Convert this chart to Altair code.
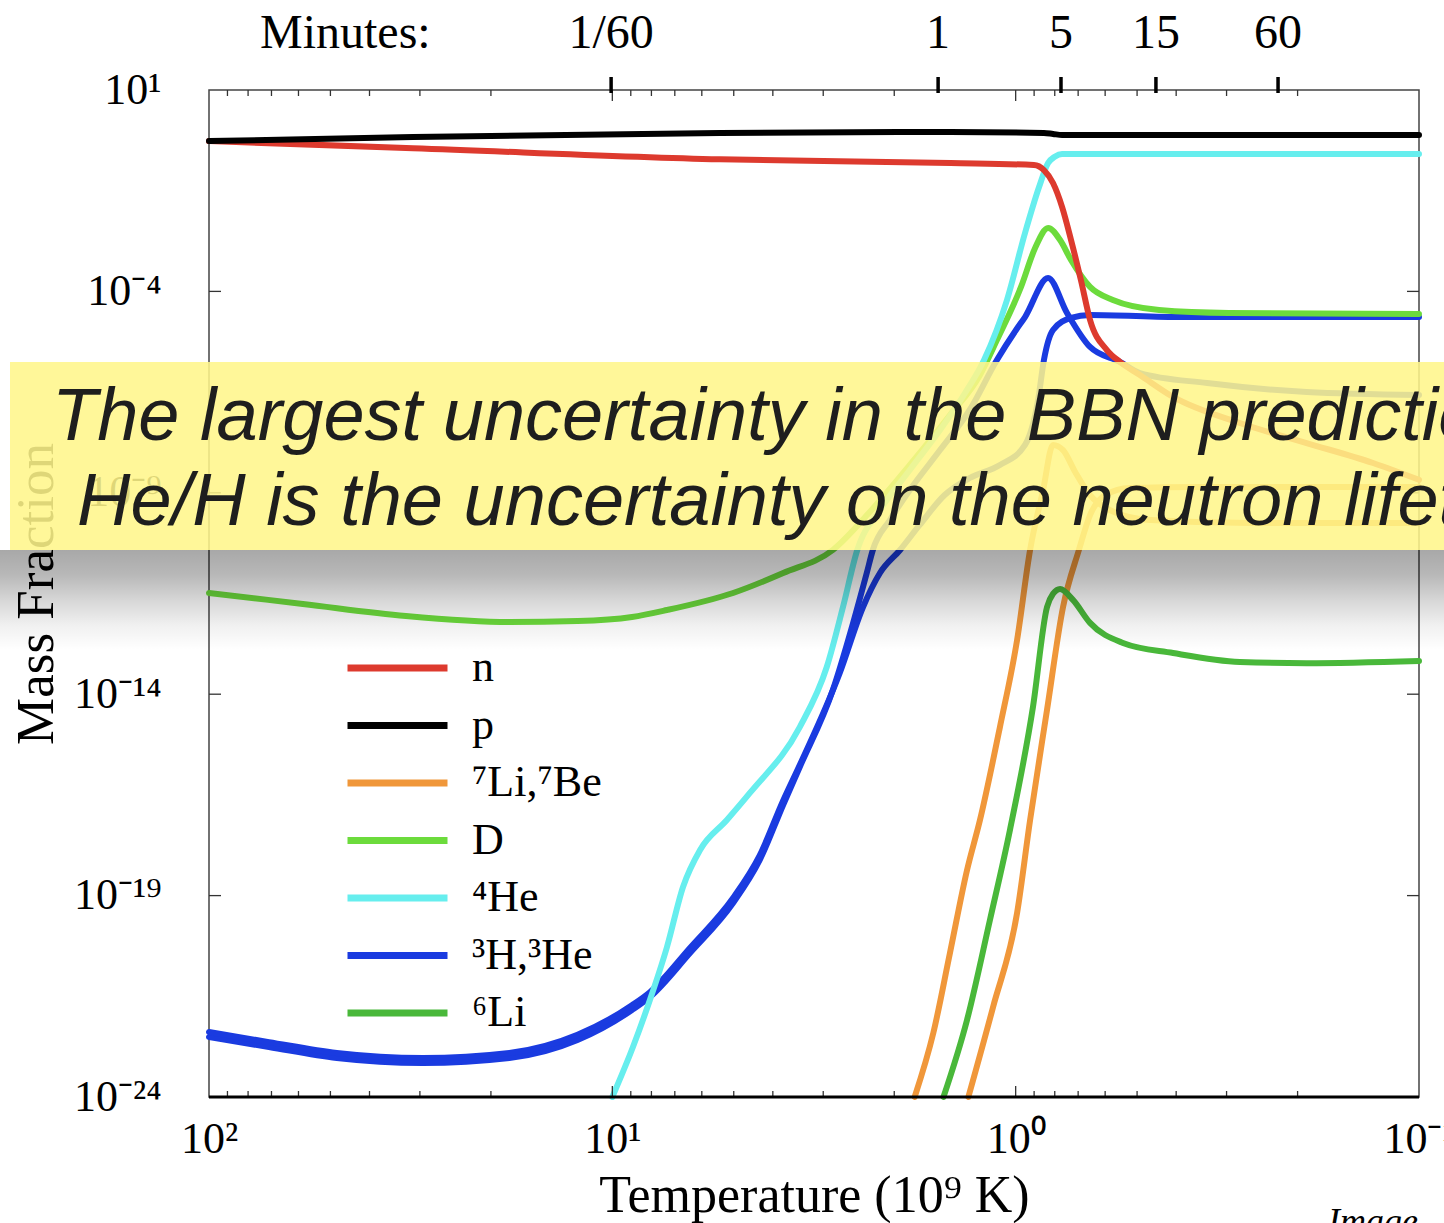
import altair as alt
import pandas as pd

# ---------------- data ----------------
# Temperature in 10^9 K (x), mass fraction (y)
SPECIES = ["n", "p", "⁷Li,⁷Be", "D", "⁴He", "³H,³He", "⁶Li"]
COLORS = ["#dd3a2e", "#000000", "#f0973a", "#6cdb3c", "#66eeee", "#1a3be0", "#49b83a"]

n_T = [100, 31.2, 5.41, 1.45, 0.901, 0.851, 0.808, 0.767, 0.729, 0.689,
       0.654, 0.594, 0.551, 0.492, 0.407, 0.278, 0.19, 0.13, 0.1]
n_X = [0.54, 0.36, 0.19, 0.154, 0.137, 0.103, 0.049, 0.0124, 1.9e-3, 1.9e-4,
       1.95e-5, 3.5e-6, 1.77e-6, 8.4e-7, 2.4e-7, 5.4e-8, 1.72e-8, 5.5e-9, 2.1e-9]

p_T = [100, 31.2, 5.41, 1.45, 0.851, 0.808, 0.767, 0.1]
p_X = [0.54, 0.68, 0.856, 0.906, 0.856, 0.81, 0.764, 0.764]

he4_T = [10.0, 8.89, 8.07, 7.32, 6.68, 6.06, 5.20, 4.56, 3.43, 2.94, 2.68, 2.47,
         2.17, 1.83, 1.54, 1.335, 1.198, 1.051, 0.948, 0.875, 0.831, 0.80, 0.767, 0.1]
he4_X = [1e-24, 1.74e-23, 2.56e-22, 5.3e-21, 1.64e-19, 1.36e-18, 7.5e-18, 3.53e-17,
         1.53e-15, 4.73e-14, 1.46e-12, 3.8e-11, 3.74e-10, 3.68e-9, 3.62e-8, 3.0e-7,
         1.98e-6, 6.1e-5, 2.82e-3, 0.039, 0.154, 0.22, 0.258, 0.258]

d_T = [100, 58.5, 32.5, 18.0, 12.2, 8.94, 7.32, 5.02, 3.77, 2.84, 2.30, 1.83, 1.455,
       1.226, 1.113, 0.97, 0.895, 0.831, 0.776, 0.729, 0.654, 0.574, 0.441, 0.296, 0.1]
d_X = [3.26e-12, 1.74e-12, 8.75e-13, 6.2e-13, 6.56e-13, 8.26e-13, 1.23e-12, 3.26e-12,
       1.02e-11, 3.8e-11, 3.33e-10, 4.9e-9, 8.5e-8, 8.4e-7, 6.2e-6, 1.29e-4, 1.19e-3,
       3.75e-3, 1.89e-3, 6.0e-4, 1.29e-4, 6.1e-5, 3.45e-5, 2.91e-5, 2.75e-5]

h3_T = [100, 71, 48.2, 29.5, 18.0, 12.2, 8.94, 8.07, 6.42, 5.02, 4.31, 3.77, 3.43,
        2.84, 2.53, 2.34, 2.26, 2.05, 1.83, 1.54, 1.30, 1.113, 0.998, 0.948, 0.831,
        0.746, 0.654, 0.551, 0.492, 0.335, 0.19, 0.1]
h3_X = [3.1e-23, 1.74e-23, 9.3e-24, 7.0e-24, 9.3e-24, 2.6e-23, 1.44e-22, 3.04e-22,
        3.76e-21, 6.55e-20, 7.66e-19, 1.8e-17, 1.56e-16, 1.27e-14, 5.86e-13, 1.02e-11,
        3.8e-11, 2.11e-10, 1.17e-9, 1.15e-8, 1.14e-7, 1.98e-6, 1.1e-5, 2.31e-5, 2.15e-4,
        2.91e-5, 4.17e-6, 1.77e-6, 9.4e-7, 5.3e-7, 3.18e-7, 2.68e-7]

he3_T = [100, 71, 48.2, 29.5, 18.0, 12.2, 8.94, 8.07, 6.42, 5.02, 4.31, 3.77, 3.43,
         2.73, 2.39, 2.17, 1.935, 1.73, 1.50, 1.30, 1.094, 0.948, 0.880, 0.851, 0.808,
         0.729, 0.654, 0.387, 0.1]
he3_X = [4.1e-23, 2.3e-23, 1.24e-23, 9.3e-24, 1.24e-23, 3.5e-23, 1.9e-22, 4.0e-22,
         5.0e-21, 8.7e-20, 1.0e-18, 2.3e-17, 1.75e-16, 3.36e-14, 1.46e-12, 1.02e-11,
         3.8e-11, 1.59e-10, 8.8e-10, 2.33e-9, 4.9e-9, 1.54e-8, 2.0e-7, 1.98e-6, 1.1e-5,
         2.19e-5, 2.6e-5, 2.31e-5, 2.31e-5]

li7_T = [1.78, 1.60, 1.455, 1.32, 1.226, 1.094, 0.992, 0.921, 0.855, 0.808, 0.763,
         0.712, 0.654, 0.583, 0.464, 0.262, 0.1]
li7_X = [1e-24, 3.9e-23, 3.8e-21, 4.3e-19, 7.5e-18, 1.53e-15, 2.2e-13, 3.8e-11, 1.17e-9,
         1.54e-8, 1.15e-8, 3.3e-9, 8.8e-10, 3.7e-10, 2.1e-10, 1.78e-10, 1.78e-10]

be7_T = [1.31, 1.138, 0.992, 0.921, 0.836, 0.763, 0.697, 0.654, 0.600, 0.521, 0.349, 0.1]
be7_X = [1e-24, 1.7e-22, 3.7e-20, 7.5e-18, 4.1e-15, 1.46e-12, 3.8e-11, 2.8e-10, 8.8e-10,
         1.32e-9, 1.39e-9, 1.39e-9]

li6_T = [1.51, 1.32, 1.158, 1.033, 0.906, 0.836, 0.808, 0.776, 0.721, 0.654, 0.542,
         0.407, 0.278, 0.19, 0.1]
li6_X = [1e-24, 8.2e-23, 2.5e-20, 4.3e-18, 4.8e-15, 1.46e-12, 3.1e-12, 4.1e-12, 2.2e-12,
         5.9e-13, 1.87e-13, 1.05e-13, 6.3e-14, 5.9e-14, 6.7e-14]

# tick positions (temperature) and minute marks of the top axis
minor_T = [90, 80, 70, 60, 50, 40, 30, 20, 9, 8, 7, 6, 5, 4, 3, 2,
           0.9, 0.8, 0.7, 0.6, 0.5, 0.4, 0.3, 0.2]
decade_T = [10, 1]
ytick_V = [1e-4, 1e-9, 1e-14, 1e-19]
minutes_T = [10.07, 1.557, 0.772, 0.449, 0.2236]
minutes_lab = ["1/60", "1", "5", "15", "60"]

# ---------------- build table ----------------
curves = [
    ("3H", "³H,³He", h3_T, h3_X),
    ("3He", "³H,³He", he3_T, he3_X),
    ("7Li", "⁷Li,⁷Be", li7_T, li7_X),
    ("7Be", "⁷Li,⁷Be", be7_T, be7_X),
    ("6Li", "⁶Li", li6_T, li6_X),
    ("D", "D", d_T, d_X),
    ("4He", "⁴He", he4_T, he4_X),
    ("n", "n", n_T, n_X),
    ("p", "p", p_T, p_X),
]
rows = []
for cid, sp, ts, xs in curves:
    for i, (t, x) in enumerate(zip(ts, xs)):
        rows.append({"curve": cid, "species": sp, "T": t, "v": x, "i": i})
df = pd.DataFrame(rows)

SERIF = "Liberation Serif"
W, H = 1210, 1007

xscale = alt.Scale(type="log", domain=[0.1, 100], reverse=True, nice=False)
yscale = alt.Scale(type="log", domain=[1e-24, 10], nice=False)

xaxis = alt.Axis(
    values=[100, 10, 1, 0.1],
    labelExpr="datum.value > 50 ? '10²' : datum.value > 5 ? '10¹' : datum.value > 0.5 ? '10⁰' : '10⁻¹'",
    ticks=False, domain=False, grid=False,
    labelFont=SERIF, labelFontSize=44, labelColor="black", labelPadding=20,
    labelFlush=False, labelOverlap=False,
    title="Temperature (10⁹ K)", titleFont=SERIF, titleFontSize=52,
    titleFontWeight="normal", titleColor="black",
    titleX=605, titleY=114, titleBaseline="alphabetic", titleAlign="center",
)
yaxis = alt.Axis(
    values=[10, 1e-4, 1e-9, 1e-14, 1e-19, 1e-24],
    labelExpr=("datum.value > 1 ? '10¹' : datum.value > 1e-6 ? '10⁻⁴' : "
               "datum.value > 1e-11 ? '10⁻⁹' : datum.value > 1e-16 ? '10⁻¹⁴' : "
               "datum.value > 1e-21 ? '10⁻¹⁹' : '10⁻²⁴'"),
    ticks=False, domain=False, grid=False,
    labelFont=SERIF, labelFontSize=44, labelColor="black", labelPadding=48,
    labelFlush=False, labelOverlap=False,
    title="Mass Fraction", titleFont=SERIF, titleFontSize=53,
    titleFontWeight="normal", titleColor="black",
    titleX=-157, titleY=503.5, titleBaseline="alphabetic", titleAlign="center",
)

X = alt.X("T:Q", scale=xscale, axis=xaxis)
Y = alt.Y("v:Q", scale=yscale, axis=yaxis)

lines = alt.Chart(df).mark_line(
    strokeWidth=6, strokeCap="round", strokeJoin="round", interpolate="monotone"
).encode(
    x=X,
    y=Y,
    color=alt.Color(
        "species:N",
        scale=alt.Scale(domain=SPECIES, range=COLORS),
        legend=alt.Legend(
            orient="none", legendX=135, legendY=554, title=None, padding=0,
            symbolType="stroke", symbolSize=10000, symbolStrokeWidth=7,
            labelFont=SERIF, labelFontSize=44, labelColor="black",
            labelOffset=21, rowPadding=9.5, clipHeight=48,
        ),
    ),
    detail="curve:N",
    order="i:Q",
)

one = pd.DataFrame({"k": [0]})
tick_color = "#333333"

bot_minor = alt.Chart(pd.DataFrame({"T": minor_T})).mark_rule(color=tick_color, strokeWidth=1.3).encode(
    x=X, y=alt.value(H), y2=alt.value(H - 6))
bot_major = alt.Chart(pd.DataFrame({"T": decade_T})).mark_rule(color=tick_color, strokeWidth=1.3).encode(
    x=X, y=alt.value(H), y2=alt.value(H - 11))
top_minor = alt.Chart(pd.DataFrame({"T": minor_T})).mark_rule(color=tick_color, strokeWidth=1.3).encode(
    x=X, y=alt.value(0), y2=alt.value(6))
top_major = alt.Chart(pd.DataFrame({"T": decade_T})).mark_rule(color=tick_color, strokeWidth=1.3).encode(
    x=X, y=alt.value(0), y2=alt.value(11))
left_ticks = alt.Chart(pd.DataFrame({"v": ytick_V})).mark_rule(color=tick_color, strokeWidth=1.3).encode(
    y=Y, x=alt.value(0), x2=alt.value(12))
right_ticks = alt.Chart(pd.DataFrame({"v": ytick_V})).mark_rule(color=tick_color, strokeWidth=1.3).encode(
    y=Y, x=alt.value(W - 12), x2=alt.value(W))
bottom_line = alt.Chart(one).mark_rule(color="black", strokeWidth=3).encode(
    x=alt.value(0), x2=alt.value(W), y=alt.value(H))

minutes_df = pd.DataFrame({"T": minutes_T, "label": minutes_lab})
min_ticks = alt.Chart(minutes_df).mark_rule(color="black", strokeWidth=3.5).encode(
    x=X, y=alt.value(-13), y2=alt.value(3))
min_labels = alt.Chart(minutes_df).mark_text(
    font=SERIF, fontSize=48, color="black", align="center", baseline="alphabetic"
).encode(x=X, y=alt.value(-42), text="label:N")
min_title = alt.Chart(one).mark_text(
    text="Minutes:", font=SERIF, fontSize=48, color="black", align="left", baseline="alphabetic"
).encode(x=alt.value(51), y=alt.value(-42))

banner = alt.Chart(one).mark_rect(color="#fff68a", opacity=0.87).encode(
    x=alt.value(-199), x2=alt.value(1245), y=alt.value(272), y2=alt.value(460))
shadow = alt.Chart(one).mark_rect(
    fill={"gradient": "linear", "x1": 0, "y1": 0, "x2": 0, "y2": 1,
          "stops": [{"offset": 0, "color": "rgba(0,0,0,0.34)"},
                    {"offset": 0.25, "color": "rgba(0,0,0,0.28)"},
                    {"offset": 0.5, "color": "rgba(0,0,0,0.16)"},
                    {"offset": 0.75, "color": "rgba(0,0,0,0.06)"},
                    {"offset": 1, "color": "rgba(0,0,0,0)"}]},
    strokeWidth=0,
).encode(x=alt.value(-209), x2=alt.value(1245), y=alt.value(460), y2=alt.value(560))

banner_font = dict(font="Liberation Sans", fontSize=74, fontStyle="italic",
                   color="#1e1e1e", align="left", baseline="alphabetic")
line1 = alt.Chart(one).mark_text(
    text="The largest uncertainty in the BBN prediction of", **banner_font
).encode(x=alt.value(-157), y=alt.value(350))
line2 = alt.Chart(one).mark_text(
    text="He/H is the uncertainty on the neutron lifetime", **banner_font
).encode(x=alt.value(-132), y=alt.value(435))

credit = alt.Chart(one).mark_text(
    text="Image", font=SERIF, fontSize=36, fontStyle="italic", color="black",
    align="left", baseline="alphabetic"
).encode(x=alt.value(1119), y=alt.value(1143))

chart = alt.layer(
    lines, bot_minor, bot_major, top_minor, top_major, left_ticks, right_ticks,
    bottom_line, min_ticks, min_labels, min_title, banner, shadow, line1, line2, credit,
).properties(
    width=W, height=H,
    autosize=alt.AutoSizeParams(type="none"),
    padding={"left": 209, "top": 90, "right": 25, "bottom": 126},
).configure(
    font=SERIF, background="white"
).configure_view(
    stroke="#444444", strokeWidth=1.5
)

chart.save("out.html", embed_options={"renderer": "svg", "actions": False})
